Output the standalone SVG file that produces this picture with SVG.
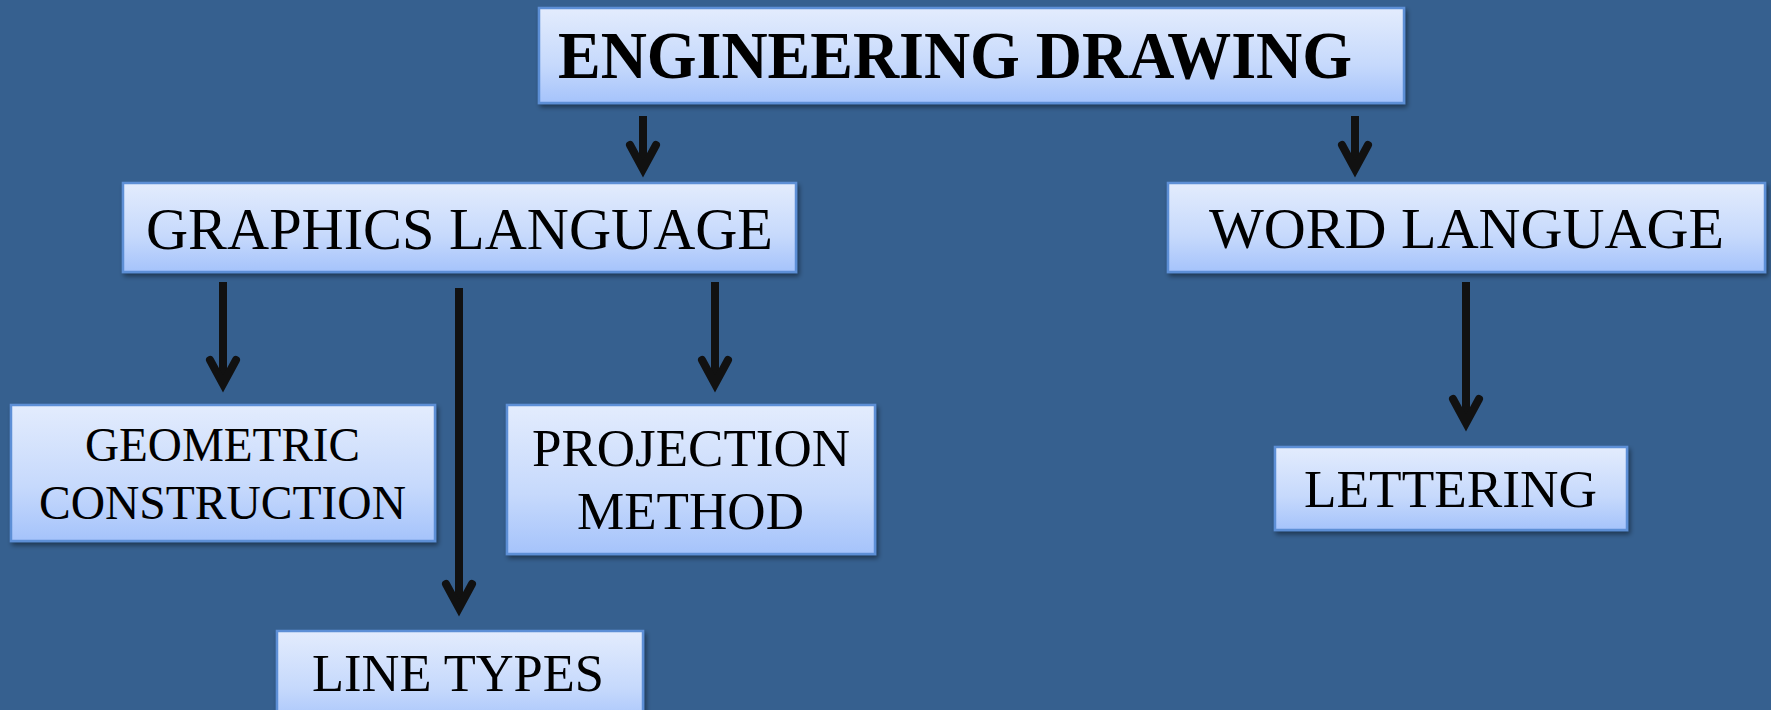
<svg xmlns="http://www.w3.org/2000/svg" width="1771" height="710" viewBox="0 0 1771 710">
<defs>
<linearGradient id="boxfill" x1="0" y1="0" x2="0" y2="1">
<stop offset="0" stop-color="#e3ecfd"/>
<stop offset="0.6" stop-color="#c6d9fc"/>
<stop offset="1" stop-color="#a5c3fb"/>
</linearGradient>
<filter id="shadow" x="-5%" y="-5%" width="112%" height="125%">
<feGaussianBlur in="SourceAlpha" stdDeviation="2.5"/>
<feOffset dx="2" dy="3" result="b"/>
<feComponentTransfer><feFuncA type="linear" slope="0.45"/></feComponentTransfer>
<feMerge><feMergeNode/><feMergeNode in="SourceGraphic"/></feMerge>
</filter>
<g id="head"><path d="M-13,-33 L0,-9 L13,-33" fill="none" stroke="#111" stroke-width="8" stroke-linecap="round" stroke-linejoin="miter"/></g>
</defs>
<style>
.box{fill:url(#boxfill);stroke:#5d8fd6;stroke-width:2.5;filter:url(#shadow)}
.t{font-family:"Liberation Serif","Times New Roman",serif;fill:#000;text-anchor:middle}
.shaft{stroke:#111;stroke-width:8;fill:none}
</style>
<rect width="1771" height="710" fill="#36608f"/>

<g id="connectors">
<line class="shaft" x1="643" y1="116" x2="643" y2="170"/><use href="#head" x="643" y="178"/>
<line class="shaft" x1="1355" y1="116" x2="1355" y2="170"/><use href="#head" x="1355" y="178"/>
<line class="shaft" x1="223" y1="282" x2="223" y2="385"/><use href="#head" x="223" y="393"/>
<line class="shaft" x1="459" y1="288" x2="459" y2="609"/><use href="#head" x="459" y="617"/>
<line class="shaft" x1="715" y1="282" x2="715" y2="385"/><use href="#head" x="715" y="393"/>
<line class="shaft" x1="1466" y1="282" x2="1466" y2="424"/><use href="#head" x="1466" y="432"/>
</g>

<g id="engineering-drawing">
<rect class="box" x="539" y="8" width="865" height="95"/>
<text class="t" x="955" y="78" font-size="68" font-weight="bold" textLength="794" lengthAdjust="spacingAndGlyphs">ENGINEERING DRAWING</text>
</g>

<g id="graphics-language">
<rect class="box" x="123" y="183" width="673" height="89"/>
<text class="t" x="459.5" y="249" font-size="60" textLength="627" lengthAdjust="spacingAndGlyphs">GRAPHICS LANGUAGE</text>
</g>

<g id="word-language">
<rect class="box" x="1168" y="183" width="597" height="89"/>
<text class="t" x="1466.5" y="248" font-size="57" textLength="515" lengthAdjust="spacingAndGlyphs">WORD LANGUAGE</text>
</g>

<g id="geometric-construction">
<rect class="box" x="11" y="405" width="424" height="136"/>
<text class="t" x="222.5" y="461" font-size="48" textLength="275" lengthAdjust="spacingAndGlyphs">GEOMETRIC</text>
<text class="t" x="222.5" y="519" font-size="48" textLength="367" lengthAdjust="spacingAndGlyphs">CONSTRUCTION</text>
</g>

<g id="projection-method">
<rect class="box" x="507" y="405" width="368" height="149"/>
<text class="t" x="691" y="466" font-size="52" textLength="318" lengthAdjust="spacingAndGlyphs">PROJECTION</text>
<text class="t" x="690.5" y="529" font-size="52" textLength="227" lengthAdjust="spacingAndGlyphs">METHOD</text>
</g>

<g id="line-types">
<rect class="box" x="277" y="631" width="366" height="95"/>
<text class="t" x="458" y="691" font-size="52" textLength="292" lengthAdjust="spacingAndGlyphs">LINE TYPES</text>
</g>

<g id="lettering">
<rect class="box" x="1275" y="447" width="352" height="83"/>
<text class="t" x="1450.5" y="507" font-size="53" textLength="293" lengthAdjust="spacingAndGlyphs">LETTERING</text>
</g>
</svg>
